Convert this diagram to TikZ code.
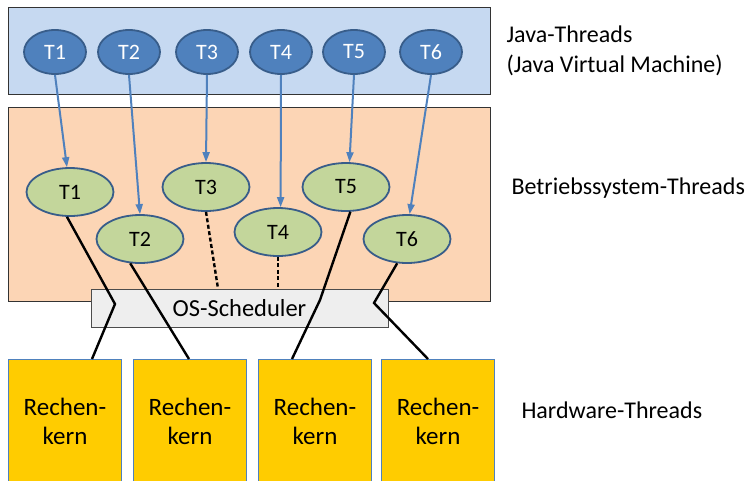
\documentclass[tikz,border=0pt]{standalone}
\usepackage{fontspec}
\setmainfont{Carlito}
\usetikzlibrary{shapes.geometric,arrows.meta}

\definecolor{jvmblue}{HTML}{C6D9F1}
\definecolor{osorange}{HTML}{FCD5B5}
\definecolor{jthread}{HTML}{4F81BD}
\definecolor{jborder}{HTML}{385D8A}
\definecolor{osthread}{HTML}{C3D69B}
\definecolor{coreyellow}{HTML}{FFCC00}
\definecolor{schedgray}{HTML}{EEEEEE}

\tikzset{
  jthr/.style={ellipse,draw=jborder,fill=jthread,line width=1.8pt,text=white,
    minimum width=62pt,minimum height=44pt,inner sep=0pt,font=\fontsize{22}{24}\selectfont},
  osthr/.style={ellipse,draw=jborder,fill=osthread,line width=1.8pt,
    minimum width=87pt,minimum height=48pt,inner sep=0pt,font=\fontsize{22}{24}\selectfont},
  core/.style={draw=jthread,fill=coreyellow,line width=1pt,anchor=north west,
    minimum width=113pt,minimum height=124pt,align=center,
    font=\fontsize{25}{29}\selectfont},
  maparrow/.style={-{Triangle[length=10pt,width=7pt]},draw=jthread,line width=2pt},
  mapline/.style={line width=2.4pt}
}

\begin{document}
\begin{tikzpicture}[x=1pt,y=-1pt]

\useasboundingbox (0,0) rectangle (752,480);

%% the two layers
\draw [fill=jvmblue,draw=black!80] (8,7) rectangle (490,94);
\draw [fill=osorange,draw=black!80] (8,107) rectangle (490,301);

%% java threads
\node [jthr] (j1) at (55,52)  {T1};
\node [jthr] (j2) at (129,52) {T2};
\node [jthr] (j3) at (207,52) {T3};
\node [jthr] (j4) at (281,52) {T4};
\node [jthr] (j5) at (354,52) {T5};
\node [jthr] (j6) at (431,52) {T6};

%% operating system threads
\node [osthr] (o1) at (70,192)  {T1};
\node [osthr] (o2) at (140,239) {T2};
\node [osthr] (o3) at (206,187) {T3};
\node [osthr] (o4) at (278,232) {T4};
\node [osthr] (o5) at (346,187) {T5};
\node [osthr] (o6) at (407,239) {T6};

%% mapping java -> os
\draw [maparrow] (j1.south) -- (o1.97);
\draw [maparrow] (j2.south) -- (o2.north);
\draw [maparrow] (j3.south) -- (o3.north);
\draw [maparrow] (j4.south) -- (o4.84);
\draw [maparrow] (j5.south) -- (o5.82);
\draw [maparrow] (j6.south) -- (o6.84);

%% the scheduler
\node [draw=black!70,fill=schedgray,line width=1pt,minimum width=297pt,
  minimum height=38pt,inner sep=0pt,font=\fontsize{24.5}{26}\selectfont]
  (sched) at (239.5,308) {OS-Scheduler};

%% the cores
\node [core] (c1) at (8,359)   {Rechen-\\kern};
\node [core] (c2) at (133,359) {Rechen-\\kern};
\node [core] (c3) at (258,359) {Rechen-\\kern};
\node [core] (c4) at (381,359) {Rechen-\\kern};

%% bends inside the scheduler
\coordinate (b1) at (115,304);
\coordinate (b5) at (320,300);
\coordinate (b6) at (374,303);

%% mapping os -> cores
\draw [mapline] (o1.-97) -- (b1) -- (c1.north east -| 92,359);
\draw [mapline] (o2.-112) -- (c2.north west -| 189,359);
\draw [mapline,dash pattern=on 4pt off 2.5pt] (o3.south) -- (sched.north -| 218,289);
\draw [mapline,dash pattern=on 4pt off 2.5pt] (o4.south) -- (sched.north -| o4.south);
\draw [mapline] (o5.-80) -- (b5) -- (c3.north west -| 292,359);
\draw [mapline] (o6.-112) -- (b6) -- (c4.north west -| 428,359);

%% labels on the right
\node [anchor=west,align=left,font=\fontsize{24}{30}\selectfont] (ljava) at (503,51)
  {Java-Threads\\(Java Virtual Machine)};
\node [anchor=west,font=\fontsize{24}{26}\selectfont] (los) at (508,188)
  {Betriebssystem-Threads};
\node [anchor=west,font=\fontsize{24}{26}\selectfont] (lhw) at (518,410)
  {Hardware-Threads};

\end{tikzpicture}
\end{document}
